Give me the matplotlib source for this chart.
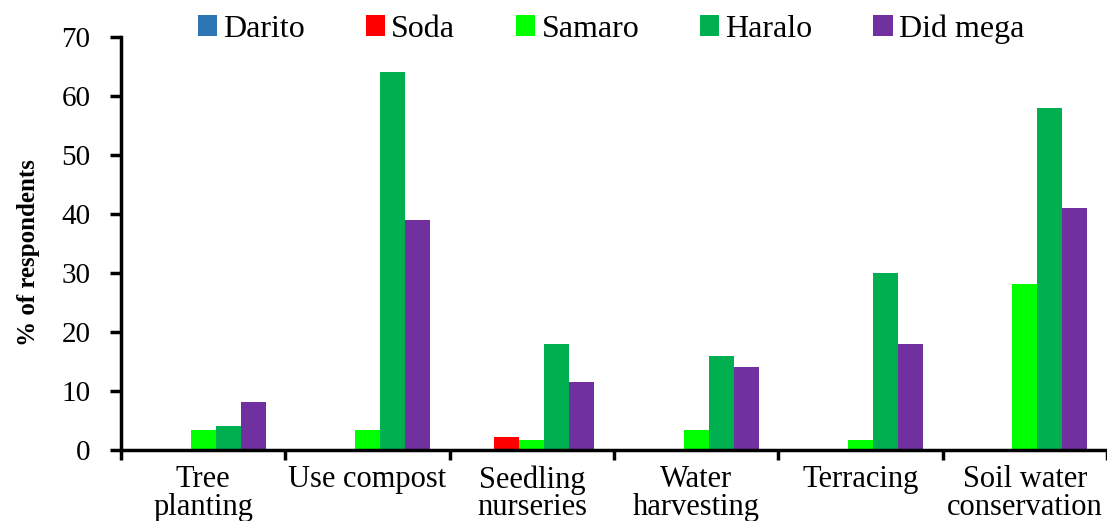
import numpy as np
import matplotlib
matplotlib.use("Agg")
import matplotlib.pyplot as plt
from matplotlib.ticker import FixedLocator

plt.rcParams['font.family'] = ['Liberation Serif', 'DejaVu Serif']

practicas = ["Tree\nplanting", "Use compost", "Seedling\nnurseries",
             "Water\nharvesting", "Terracing", "Soil water\nconservation"]
sitios = ["Darito", "Soda", "Samaro", "Haralo", "Did mega"]
colores = ["#2E75B6", "#FF0000", "#00FF00", "#00B050", "#7030A0"]

darito = [0, 0, 0, 0, 0, 0]
soda = [0, 0, 2.2, 0, 0, 0]
samaro = [3.4, 3.4, 1.7, 3.4, 1.7, 28.2]
haralo = [4, 64, 18, 16, 30, 58]
did_mega = [8.2, 39, 11.5, 14, 18, 41]
valores = [darito, soda, samaro, haralo, did_mega]

fig = plt.figure(figsize=(11.07, 5.21), dpi=100)
ax = fig.add_axes([0.1093, 0.1363, 0.8907, 0.7927])

x = np.arange(len(practicas))
ancho = 0.152
for i, (serie, nombre, color) in enumerate(zip(valores, sitios, colores)):
    ax.bar(x + (i - 2) * ancho, serie, width=ancho, color=color, label=nombre)

ax.set_xlim(-0.5, 5.5)
ax.set_ylim(0, 70)
ax.set_yticks(range(0, 71, 10))
ax.set_xticks(x)
ax.set_xticklabels(practicas, fontsize=22, linespacing=0.92)
ax.xaxis.set_minor_locator(FixedLocator(np.arange(-0.5, 5.6, 1)))
ax.tick_params(axis='x', which='major', length=0, pad=11)
ax.tick_params(axis='x', which='minor', length=7, width=2.5, direction='out')
ax.tick_params(axis='y', labelsize=21, length=8, width=2.5, direction='out', pad=14)

for lado in ["top", "right"]:
    ax.spines[lado].set_visible(False)
for lado in ["left", "bottom"]:
    ax.spines[lado].set_linewidth(2.5)

fig.text(0.026, 0.516, "% of respondents", rotation=90, ha='center', va='center',
         fontsize=18, fontweight='bold')

ax.legend(loc='upper center', bbox_to_anchor=(0.497, 1.086), ncol=5, frameon=False,
          fontsize=23, handlelength=0.6, handleheight=0.6, handletextpad=0.2,
          columnspacing=1.9, borderaxespad=0)

fig.savefig("out.png", dpi=100)
